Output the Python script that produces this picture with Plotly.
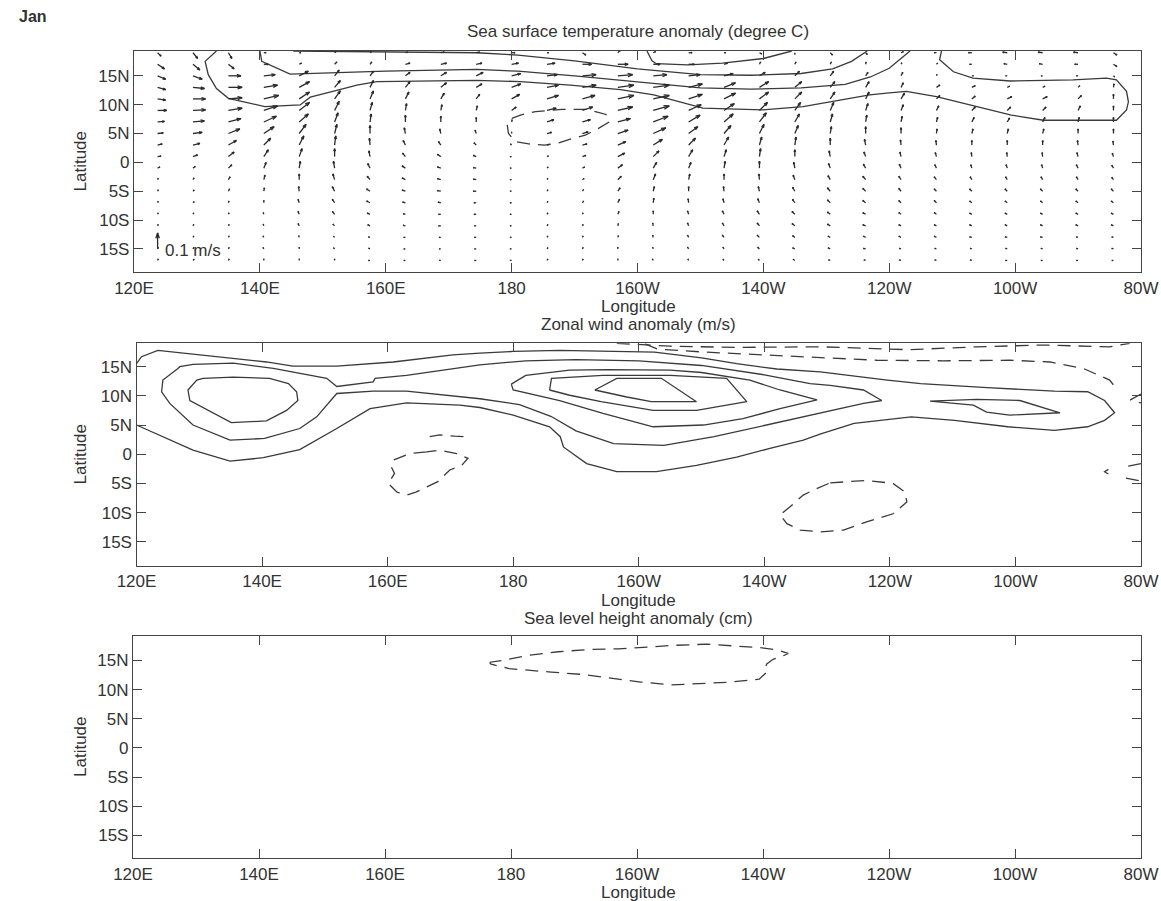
import math
import plotly.graph_objects as go

W, H = 1161, 901
FONT = "Liberation Sans, Arial, Helvetica, sans-serif"
INK = "#333333"
LINE = "#3a3a3a"

# ---------------- axis ticks ----------------
LON_TICKS = [120, 140, 160, 180, 200, 220, 240, 260, 280]
LON_LABELS = ["120E", "140E", "160E", "180", "160W", "140W", "120W", "100W", "80W"]
LAT_TICKS = [-15, -10, -5, 0, 5, 10, 15]
LAT_LABELS = ["15S", "10S", "5S", "0", "5N", "10N", "15N"]

# ---------------- panel 1: current anomaly vectors ----------------
grid_lon = [123.75, 129.375, 135.0, 140.625, 146.25, 151.875, 157.5, 163.125,
            168.75, 174.375, 180.0, 185.625, 191.25, 196.875, 202.5, 208.125,
            213.75, 219.375, 225.0, 230.625, 236.25, 241.875, 247.5, 253.125,
            258.75, 264.375, 270.0, 275.625]
grid_lat = [19, 17, 15, 13, 11, 9, 7, 5, 3, 1, -1, -3, -5, -7, -9, -11, -13, -15, -17]

# vector components, one list per longitude (ordered like grid_lat);
# units: 14 = 0.1 m/s (the reference arrow)
sst_u = [
    [3, 6, 7, 7, 7, 8, 6, 5, 4, 3, 2, 0.5, 0.5, 0.5, 0.5, 0.5, 0.5, 0.5, 0.5],
    [4, 6, 8, 10, 11, 11, 10, 8, 6, 4, 2, 1, 1, 1, 0.5, 0.5, 0.5, 0.5, 0.5],
    [3, 5, 11, 12, 12, 12, 11, 10, 7, 5, 3, 1.5, 1, 0.5, 0.5, 0.5, 0.5, 0.5, 0.5],
    [2, 4, 10, 12, 13, 12, 11, 9, 6, 4, 2, 1, 0.5, 0, -0.5, -0.5, -0.5, -0.5, 0],
    [1, 2, 8, 9, 9, 9, 8, 6, 4, 2.5, 1, 0, -0.5, -1, -1, -1, -0.5, 0, 0],
    [0.5, 2, 4, 5, 5, 4, 3, 2, 1, 0, -1, -1.5, -2, -2, -2, -1.5, -1, -0.5, 0],
    [0.5, 1.5, 3, 3, 3, 2, 1, 0, -0.5, -1, -2, -2.5, -3, -3, -2.5, -2, -1.5, -1, -0.5],
    [2, 4, 4, 4, 3, 1, 0, -1, -2, -2.5, -3, -3, -3, -2.5, -2, -2, -1.5, -1, -0.5],
    [3, 5, 5, 5, 3, 1, 0, -1, -2, -3, -3, -3, -3, -2.5, -2, -2, -1.5, -1, -0.5],
    [3, 5, 6, 5, 3, 1, 0, -1, -2, -2.5, -2.5, -2.5, -2.5, -2, -2, -1.5, -1.5, -1, -0.5],
    [3, 6, 8, 8, 7, 4, 0.5, 0, -0.5, -0.5, -0.5, -0.5, -0.5, -0.5, -0.5, -0.5, -0.5, -0.5, -0.3],
    [1, 7, 9, 10, 10, 8, 6, 4, 2, 1, 0.5, 0.3, 0.3, 0.3, 0.3, 0.3, 0.3, 0.3, 0.3],
    [3, 8, 12, 12, 11, 9, 7, 5, 4, 3, 2, 1.5, 1, 1, 0.5, 0.5, 0.5, 0.5, 0.5],
    [2, 9, 13, 14, 14, 13, 11, 9, 7, 6, 4, 3, 2, 1.5, 1, 0.5, 0.5, 0, 0],
    [2, 6, 12, 14, 14, 14, 13, 11, 8, 5, 3, 2, 1, 0.5, 0, -0.5, -0.5, -0.5, -0.5],
    [3, 5, 10, 12, 12, 11, 10, 8, 6, 3.5, 2, 1, 0, -0.5, -1, -1, -1, -1, -0.5],
    [1, 3, 8, 10, 10, 9, 8, 6, 4, 2, 1, 0, -0.5, -1, -1.5, -1.5, -1.5, -1, -1],
    [2, 1, 5, 8, 8, 7, 6, 4, 2, 1, 0, -0.5, -1, -1.5, -2, -2, -2, -1.5, -1],
    [0, 1, 4, 6, 6, 5, 4, 3, 1, 0, -1, -1.5, -2, -2, -2.5, -2.5, -2, -2, -1.5],
    [2, 1, 3, 4, 4, 3, 2, 1, 0, -1, -1.5, -2, -2.5, -2.5, -2.5, -2.5, -2, -2, -1.5],
    [1.5, 0.5, 2, 3, 3, 2, 1, 0, -1, -1.5, -2, -2.5, -2.5, -2.5, -2.5, -2.5, -2, -2, -1.5],
    [2, 0.5, 1.5, 2, 3, 2, 1, 0, -0.5, -1, -1.5, -2, -2, -2, -2, -2, -2, -1.5, -1.5],
    [-2, 0.5, 0.5, 3, 3, 2, 1, 0.5, -0.5, -1, -1.5, -2, -2, -2, -2, -2, -2, -1.5, -1.5],
    [-3, -2, 0.5, 3, 3, 3, 2, 1, 0, -0.5, -1, -1.5, -2, -2, -2, -2, -2, -1.5, -1.5],
    [-4, -3, -1, 2, 4, 3, 2, 1, 0, -0.5, -1, -1.5, -2, -2, -2, -2, -2, -1.5, -1.5],
    [-4, -3, -1, 2, 4, 3, 2, 1, 0, -0.5, -1, -1.5, -2, -2, -2, -2, -2, -1.5, -1.5],
    [-4, -3, -0.5, 1.5, 3, 2, 1, 0, -0.5, -1, -1.5, -1.5, -2, -2, -2, -2, -1.5, -1.5, -1],
    [3, 3, 1, 0.5, 0, 0, 0, 0, -0.5, -1, -1.5, -1.5, -2, -2, -2, -2, -1.5, -1.5, -1],
]
sst_v = [
    [-3, -4, -3, -2, -1, 0, 0.5, 0.5, 1, 0.5, 1, 1, 1, 1, 1, 1, 1, 1, 1],
    [-5, -5, -3, -1, 0, 0.5, 1, 1, 1.5, 1.5, 1.5, 1.5, 1, 1, 1, 1, 1, 1, 0.5],
    [-5, -4, 0, 0, 1, 2, 3, 4, 4, 4, 3, 2.5, 2, 1.5, 1, 1, 1, 1, 1],
    [0, 0, 1, 2, 3, 4, 5, 6, 6, 6, 5, 4, 3, 2, 1.5, 1.5, 1, 1, 1],
    [0, 1, 4, 5, 6, 7, 7, 8, 8, 7, 6, 5, 4, 3, 2.5, 2, 1.5, 1, 0.5],
    [0.5, 2, 5, 6, 7, 8, 8, 8, 8, 7, 6, 5, 4, 3, 2.5, 1.5, 1, 0.5, 0.5],
    [0.5, 2, 4, 6, 7, 7, 7, 7, 6, 5, 4, 3, 2, 1.5, 1, 1, 0.5, 0.5, 0],
    [0.5, 1, 3, 5, 6, 6, 6, 5, 4, 3, 2, 1.5, 1, 0.5, 0.5, 0.5, 0, 0, 0],
    [0.5, 1, 3, 4, 5, 5, 5, 4, 3, 2, 1, 1, 0.5, 0.5, 0, 0, 0, 0, 0],
    [0.5, 1, 3, 3, 4, 4, 4, 3, 2, 1, 0.5, 0.5, 0, 0, 0, 0, 0, 0, 0],
    [0, 1, 2, 3, 4, 3, 2, 1, 0.5, 0, 0, 0, 0, 0, 0, 0, 0, 0, 0],
    [0, 1, 1, 2, 3, 2, 2, 1, 0.5, 0.5, 0.5, 0.5, 0.5, 0.5, 0.5, 0.5, 0.5, 0.5, 0.5],
    [-2, 0, 1, 2, 3, 3, 2, 1.5, 1, 1, 1, 1, 1.5, 1.5, 1, 1, 1, 1, 1],
    [2, 0, 1, 2, 3, 3, 3, 3, 3, 3, 3, 3, 3, 3, 2.5, 2, 1.5, 1, 1],
    [1, 0, 1, 2, 3, 4, 5, 5, 5, 5, 5, 5, 4, 4, 3, 2.5, 2, 1.5, 1],
    [0, 0, 1, 3, 4, 5, 6, 6, 6, 6, 5, 5, 4, 3.5, 3, 2.5, 2, 1.5, 1],
    [0, 1, 2, 4, 5, 6, 7, 7, 7, 6, 6, 5, 4, 3.5, 3, 2.5, 2, 1.5, 1],
    [-1, 2, 3, 5, 6, 7, 8, 8, 7, 7, 6, 5, 4, 3.5, 3, 2.5, 2, 1.5, 1],
    [-1, 2, 4, 5, 6, 7, 7, 7, 7, 6, 5, 4, 3.5, 3, 2.5, 2, 1.5, 1, 1],
    [-2, 2, 4, 5, 6, 7, 7, 6, 6, 5, 4, 3.5, 3, 2.5, 2, 1.5, 1, 1, 0.5],
    [-1.5, 2, 3, 5, 6, 6, 6, 6, 5, 4, 3.5, 3, 2.5, 2, 1.5, 1, 1, 0.5, 0.5],
    [1, 1, 3, 4, 5, 5, 5, 5, 4.5, 4, 3.5, 3, 2.5, 2, 1.5, 1, 1, 0.5, 0.5],
    [0, 0.5, 1, 2, 3, 4, 4, 4, 4, 3.5, 3, 2.5, 2, 2, 1.5, 1, 1, 0.5, 0.5],
    [0, 0, 0, 1.5, 2.5, 3, 4, 4, 4, 3.5, 3, 2.5, 2, 1.5, 1, 1, 0.5, 0.5, 0.5],
    [0.5, 0.5, 0, 1, 2, 3, 3.5, 4, 4, 3.5, 3, 2.5, 2, 1.5, 1, 1, 0.5, 0.5, 0],
    [0.5, 0.5, 0, 1, 2, 3, 4, 4, 4, 3.5, 3, 2.5, 2, 1.5, 1, 1, 0.5, 0.5, 0],
    [0.5, 0, 0, 1.5, 3, 4, 4, 4, 4, 3.5, 3, 2.5, 2, 1.5, 1, 1, 0.5, 0.5, 0],
    [-2, -2, -1, 3, 4, 4, 4, 4, 3.5, 3, 2.5, 2, 2, 1.5, 1, 1, 0.5, 0.5, 0],
]
REF_LON, REF_LAT, REF_U, REF_V = 123.75, -15, 0, 14
REF_LABEL = "0.1 m/s"
ARROW_PX_PER_UNIT = 16.0 / 14.0   # drawing scale: reference arrow is 16 px long

# SST anomaly contours (lon, lat)
sst_solid = [
    [(133.1, 19.3), (131.3, 17.5), (131.8, 15.2), (133.1, 12.8), (135.0, 11.1), (140.8, 9.65),
     (146.4, 9.95), (148.0, 11.3), (153.3, 12.8), (155.4, 13.4), (158.6, 14.0), (165, 14.1),
     (174.5, 14.2), (181.4, 14.0), (189.3, 13.4), (197.3, 12.6), (202.6, 11.7), (210.4, 9.4),
     (219.9, 9.1), (226.3, 9.65), (236.9, 11.7), (239.6, 12.0), (242.7, 12.3), (247.5, 11.4),
     (253.9, 9.7), (259.4, 8.2), (264.5, 7.3), (276.1, 7.3), (277.7, 9.1), (278.0, 10.5),
     (277.7, 12.3), (276.1, 14.3), (274.5, 14.6), (269.2, 14.3), (259.2, 14.1), (253.3, 14.6),
     (250.2, 15.7), (248.0, 17.8), (248.3, 19.3)],
    [(140.0, 19.3), (140.3, 17.5), (144.8, 15.3), (160, 15.8), (174.5, 16.1), (181, 15.8),
     (190, 15.0), (200, 14.0), (210, 12.9), (218, 12.7), (226, 12.9), (233, 13.5), (237, 14.8),
     (240, 16.3), (241.7, 17.8), (243.3, 19.3)],
    [(145.3, 19.3), (160, 19.2), (174.5, 19.0), (181, 18.6), (190, 17.6), (200, 16.2),
     (210, 15.2), (218, 15.1), (226, 15.4), (231, 16.2), (234, 17.5), (236.5, 19.3)],
    [(201.5, 19.3), (202.3, 17.6), (203, 17.1), (208, 16.9), (213.5, 17.2), (220, 18.0),
     (224.5, 19.3)],
]
sst_dashed = [
    [(195.5, 7.0), (193.8, 5.9), (191.7, 4.7), (189.8, 4.2), (187.5, 3.4), (185.3, 3.0),
     (182.7, 3.2), (180.6, 3.6), (179.5, 5.0), (179.3, 6.5), (180.0, 7.6), (181.4, 8.2),
     (183.8, 8.8), (188, 9.2), (192, 9.2), (195, 8.3), (195.5, 7.0)],
]

# ---------------- panel 2: zonal wind anomaly contours ----------------
wind_solid = [
    [(120, 15.5), (120.8, 16.7), (123.4, 17.8), (130.1, 17.0), (140.7, 15.8), (144.9, 15.1),
     (151.9, 15.1), (160.9, 15.8), (170.4, 17.0), (174.7, 17.3), (180, 17.6), (187.4, 17.8),
     (196, 17.6), (202.5, 17.5), (210, 16.5), (215.6, 15.5), (222, 14.6), (228.9, 14.1),
     (239.6, 12.7), (244.9, 12.1), (255.5, 11.4), (266.2, 10.8), (271.5, 10.7), (274.2, 9.2),
     (275.8, 7.1), (274.2, 5.8), (271.5, 4.7), (266.2, 4.1), (258.8, 4.7), (250.3, 5.8),
     (243.4, 6.4), (234.3, 5.3), (229, 3.5), (226.2, 2.4), (220.9, 1.0), (215.6, -0.5),
     (209.2, -1.9), (202.8, -3.0), (196.5, -3.0), (191.7, -1.6), (188, 1.25), (187.5, 3.0),
     (185.8, 4.7), (180, 6.7), (174.7, 8.0), (171.5, 8.4), (163, 8.8), (157.2, 7.8),
     (151.9, 4.4), (147.6, 1.8), (146, 0.8), (140.2, -0.6), (134.9, -1.2), (129, 0.7),
     (120, 5.0)],
    [(126.6, 14.7), (126.9, 15.0), (129.0, 15.4), (135.4, 15.6), (141.8, 14.7), (150.3, 13.0),
     (151.9, 11.6), (157.7, 12.4), (158, 13.0), (163.0, 13.5), (174.7, 15.3), (182, 16.0),
     (190, 16.2), (200, 16.0), (210, 15.2), (220, 13.6), (227.3, 12.1), (230.5, 11.8),
     (235.8, 11.0), (238.7, 9.2), (235.8, 8.7), (227.3, 6.7), (220, 5.0), (212, 3.0),
     (204, 1.5), (196, 1.8), (190, 4.0), (186, 6.5), (181, 8.5), (174.7, 9.5), (163.0, 10.8),
     (157.7, 10.8), (151.9, 10.4), (148.7, 6.4), (146.0, 4.4), (140.4, 2.7), (134.9, 2.4),
     (129.0, 5.0), (125.3, 8.7), (124.0, 10.7), (124.2, 12.7), (126.6, 14.7)],
    [(130.6, 13.0), (135.4, 13.2), (141.2, 13.0), (144.2, 12.1), (145.5, 10.7), (145.7, 9.2),
     (143.9, 7.5), (140.7, 5.7), (135.1, 5.4), (128.5, 9.2), (128.2, 11.0), (129.6, 12.7),
     (130.6, 13.0)],
    [(179.7, 12.0), (180, 11.0), (187.4, 9.2), (194.3, 7.0), (202.3, 4.7), (210.3, 5.0),
     (216.6, 6.1), (222.5, 7.8), (228.4, 9.3), (222.5, 11.0), (217.7, 12.7), (210, 14.0),
     (205, 14.4), (195, 14.5), (189, 14.4), (182, 13.5), (179.7, 12.0)],
    [(185.8, 11.0), (186.1, 13.0), (194.3, 13.5), (205, 13.5), (214, 13.0), (217.2, 9.0),
     (209.2, 7.5), (202.3, 7.5), (194, 9.0), (189, 10.1), (185.8, 11.0)],
    [(193, 11.0), (196.5, 13.0), (203.6, 13.0), (209.2, 9.0), (202, 9.0), (198.1, 9.8),
     (193, 11.0)],
    [(246.4, 9.1), (253.8, 9.4), (260.7, 9.2), (264.4, 8.0), (267.1, 7.1), (259.1, 6.7),
     (255.4, 7.2), (253.3, 8.4), (246.4, 9.1)],
]
wind_dashed = [
    [(196.5, 19.0), (205, 18.5), (215.6, 18.3), (228.9, 18.4), (243.2, 17.9), (253.8, 18.4),
     (264.4, 18.7), (275, 18.4), (278.2, 19.0)],
    [(201, 18.9), (203, 18.0), (210.3, 17.5), (220.9, 17.0), (228.9, 16.6), (237.9, 16.1),
     (248.5, 16.0), (259.1, 16.1), (265.5, 15.8), (270.8, 14.7), (275.0, 12.7), (276.1, 11.2)],
    [(230.5, -4.9), (236.3, -4.5), (240.5, -5.0), (242.4, -6.5), (242.7, -8.2), (240.5, -10.2),
     (236.3, -11.6), (232.6, -13.0), (228.9, -13.3), (225.7, -13.0), (223.6, -11.9),
     (222.5, -10.4), (224.1, -9.0), (226.2, -7.0), (228.3, -5.9), (230.5, -4.9)],
    [(166.2, 0.4), (163.5, 0.1), (160.9, -1.0), (160.6, -2.2), (161.1, -3.3), (160.1, -5.0),
     (161.5, -6.5), (163, -7.0), (164.5, -6.5), (166.2, -5.6), (168, -4.7), (169.9, -2.7),
     (171.8, -1.9), (172.8, -0.7), (171, 0.1), (168.3, 0.7), (166.2, 0.4)],
    [(166.7, 3.0), (168.3, 3.3), (170.7, 3.1), (172.6, 3.0)],
    [(280, 10.3), (278.3, 9.3), (280, 8.8)],
    [(280, -1.6), (277.6, -2.1)],
    [(274.8, -2.6), (274.2, -3.0), (274.8, -3.4)],
    [(277.6, -4.1), (280, -4.6)],
]

# ---------------- panel 3: sea level height anomaly contours ----------------
ssh_dashed = [
    [(176.7, 14.4), (176.7, 14.7), (178.6, 15.0), (182.8, 15.9), (187.5, 16.5), (192.5, 16.9),
     (197.1, 17.0), (201.7, 17.3), (206.0, 17.6), (211.1, 17.8), (215.7, 17.5), (219.5, 17.2),
     (222.3, 16.8), (224.0, 16.2), (222.8, 15.6), (221.6, 15.2), (220.6, 14.4), (220.3, 13.6),
     (220.6, 13.0), (219.4, 11.8), (215.0, 11.3), (210.0, 11.0), (205.4, 10.8), (200.6, 11.3),
     (196.0, 11.9), (191.4, 12.6), (186.4, 13.0), (179.7, 13.6), (176.7, 14.4)],
]

TITLES = ["Sea surface temperature anomaly (degree C)",
          "Zonal wind anomaly (m/s)",
          "Sea level height anomaly (cm)"]

# ---------------- layout geometry (pixels) ----------------
PANELS = [
    dict(x0=134, x1=1141, top=51, bot=272, yr=(-19.0, 19.3)),
    dict(x0=136.5, x1=1141, top=343.3, bot=565.7, yr=(-19.1, 19.0)),
    dict(x0=133, x1=1141, top=636, bot=858, yr=(-18.9, 19.2)),
]


def lines_xy(segs):
    xs, ys = [], []
    for s in segs:
        for (a, b) in s:
            xs.append(a)
            ys.append(b)
        xs.append(None)
        ys.append(None)
    return xs, ys


def quiver_xy(panel, lons, lats, U, V, extra=()):
    sx = (panel["x1"] - panel["x0"]) / 160.0
    sy = (panel["bot"] - panel["top"]) / (panel["yr"][1] - panel["yr"][0])
    alpha, beta = 0.33, 0.33
    xs, ys = [], []
    items = []
    for i, lon in enumerate(lons):
        for j, lat in enumerate(lats):
            items.append((lon, lat, U[i][j], V[i][j]))
    items.extend(extra)
    for lon, lat, u, v in items:
        u, v = u * ARROW_PX_PER_UNIT, v * ARROW_PX_PER_UNIT
        L = math.hypot(u, v)
        if L < 1.6:
            if L == 0:
                u, v = 0.3, 1.0
                L = math.hypot(u, v)
            f = 1.6 / L
            u, v = u * f, v * f
        tip = (u, v)
        h1 = (u - alpha * (u + beta * v), v - alpha * (v - beta * u))
        h2 = (u - alpha * (u - beta * v), v - alpha * (v + beta * u))
        for p in [(0, 0), tip, None, h1, tip, h2, None]:
            if p is None:
                xs.append(None)
                ys.append(None)
            else:
                xs.append(lon + p[0] / sx)
                ys.append(lat + p[1] / sy)
    return xs, ys


fig = go.Figure()

axis_names = [("x", "y"), ("x2", "y2"), ("x3", "y3")]
solid_sets = [sst_solid, wind_solid, []]
dashed_sets = [sst_dashed, wind_dashed, ssh_dashed]

for k, (xa, ya) in enumerate(axis_names):
    if solid_sets[k]:
        xs, ys = lines_xy(solid_sets[k])
        fig.add_trace(go.Scatter(x=xs, y=ys, mode="lines", xaxis=xa, yaxis=ya,
                                 line=dict(color=LINE, width=1.3), hoverinfo="skip",
                                 showlegend=False))
    if dashed_sets[k]:
        xs, ys = lines_xy(dashed_sets[k])
        fig.add_trace(go.Scatter(x=xs, y=ys, mode="lines", xaxis=xa, yaxis=ya,
                                 line=dict(color=LINE, width=1.3, dash="13px,8px"),
                                 hoverinfo="skip", showlegend=False))

qx, qy = quiver_xy(PANELS[0], grid_lon, grid_lat, sst_u, sst_v,
                   extra=[(REF_LON, REF_LAT, REF_U, REF_V)])
fig.add_trace(go.Scatter(x=qx, y=qy, mode="lines", xaxis="x", yaxis="y",
                         line=dict(color="#2a2a2a", width=1.3), hoverinfo="skip",
                         showlegend=False))

tickfont = dict(family=FONT, size=17, color=INK)
layout = dict(width=W, height=H, margin=dict(l=0, r=0, t=0, b=0, pad=0, autoexpand=False),
              autosize=False, paper_bgcolor="white", plot_bgcolor="white", showlegend=False)

for k, p in enumerate(PANELS):
    sfx = "" if k == 0 else str(k + 1)
    layout["xaxis" + sfx] = dict(
        domain=[p["x0"] / W, p["x1"] / W], range=[120, 280], anchor="y" + sfx,
        tickvals=LON_TICKS, ticktext=LON_LABELS, ticks="inside", ticklen=9,
        tickwidth=1.2, tickcolor="#444", showline=True, linecolor="#444", linewidth=1.3,
        mirror="ticks", showgrid=False, zeroline=False, tickfont=tickfont,
        automargin=False, fixedrange=True)
    layout["yaxis" + sfx] = dict(
        domain=[1 - p["bot"] / H, 1 - p["top"] / H], range=list(p["yr"]), anchor="x" + sfx,
        tickvals=LAT_TICKS, ticktext=LAT_LABELS, ticks="inside", ticklen=9,
        tickwidth=1.2, tickcolor="#444", showline=True, linecolor="#444", linewidth=1.3,
        mirror="ticks", showgrid=False, zeroline=False, tickfont=tickfont,
        automargin=False, fixedrange=True)

ann = []
tfont = dict(family=FONT, size=17, color=INK)
ann.append(dict(text="<b>Jan</b>", x=17 / W, y=1 - 17 / H, xref="paper", yref="paper",
                xanchor="left", yanchor="middle", showarrow=False,
                font=dict(family=FONT, size=16, color=INK)))
title_y = [32, 325, 618]
lon_label_y = [307, 600, 892]
for k, p in enumerate(PANELS):
    cx = 638 / W
    ann.append(dict(text=TITLES[k], x=cx, y=1 - title_y[k] / H, xref="paper", yref="paper",
                    xanchor="center", yanchor="middle", showarrow=False, font=tfont))
    ann.append(dict(text="Longitude", x=cx, y=1 - lon_label_y[k] / H, xref="paper",
                    yref="paper", xanchor="center", yanchor="middle", showarrow=False,
                    font=tfont))
    ann.append(dict(text="Latitude", x=80 / W, y=1 - (p["top"] + p["bot"]) / 2 / H,
                    xref="paper", yref="paper", xanchor="center", yanchor="middle",
                    textangle=-90, showarrow=False, font=tfont))
ann.append(dict(text=REF_LABEL, x=124.6, y=-15.2, xref="x", yref="y", xanchor="left",
                yanchor="middle", showarrow=False, font=tfont))
layout["annotations"] = ann

fig.update_layout(**layout)
fig.write_html("out.html", config=dict(responsive=False, displayModeBar=False))
